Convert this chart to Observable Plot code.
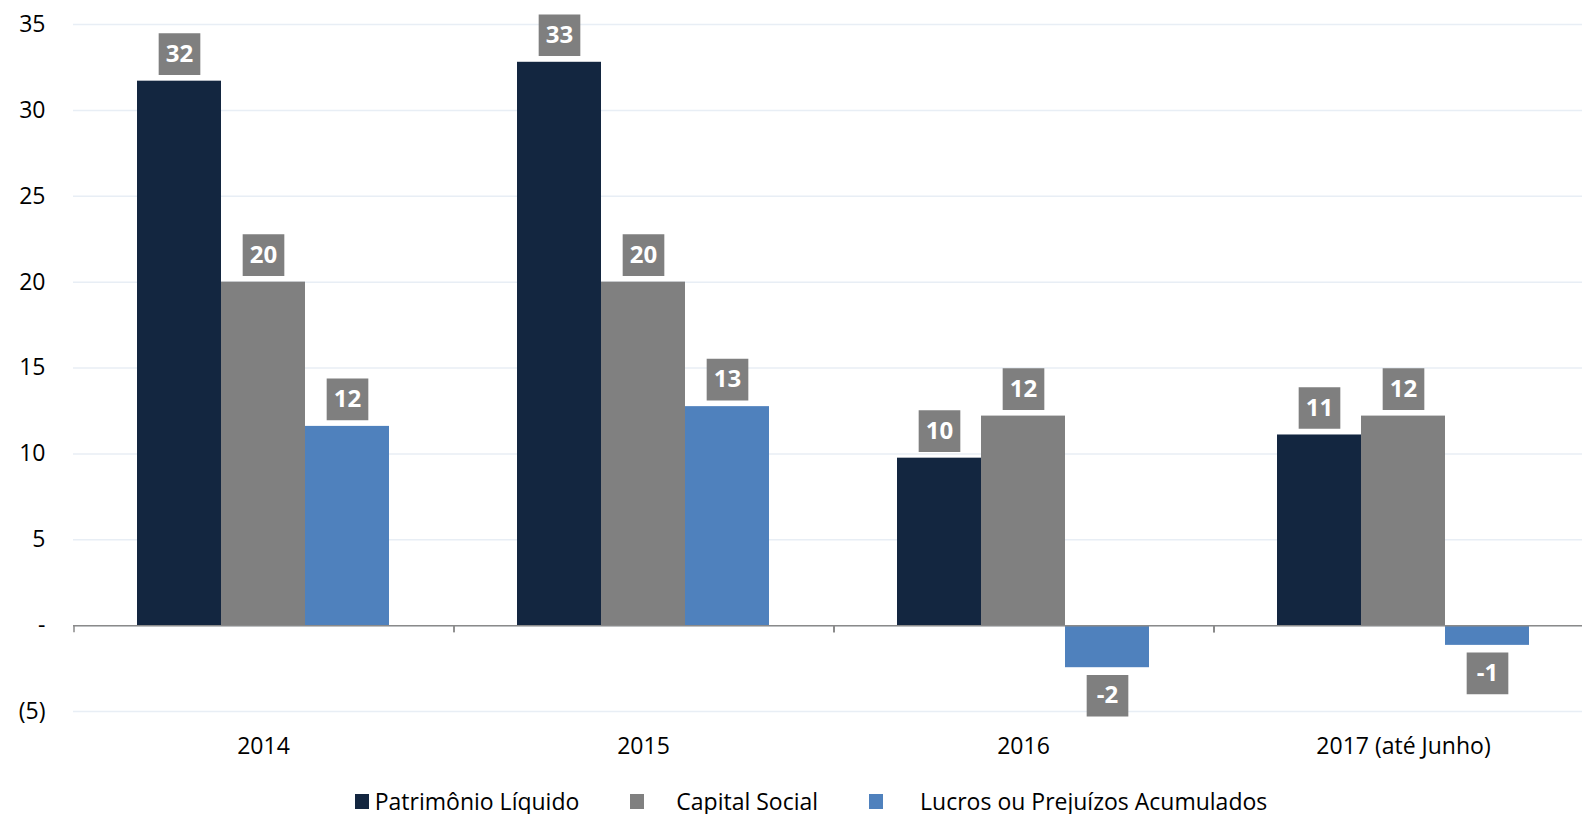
<!DOCTYPE html>
<html>
<head>
<meta charset="utf-8">
<script src="https://cdn.jsdelivr.net/npm/d3@7"></script>
<script src="https://cdn.jsdelivr.net/npm/@observablehq/plot@0.6"></script>
<style>
  html, body { margin: 0; padding: 0; background: #fff; overflow: hidden; }
  body { width: 1582px; height: 814px; font-family: "Open Sans", sans-serif; }
  #chart svg { display: block; }
  .legend { display: flex; justify-content: center; align-items: center; height: 30px; margin-top: 16px; padding-left: 40px;
    font-family: "Open Sans", sans-serif; font-size: 23px; color: #000; }
  .legend .item { display: flex; align-items: center; }
  .legend .sw { width: 14px; height: 15px; display: inline-block; }
</style>
</head>
<body>
<div id="chart"></div>
<div class="legend" id="legend"></div>
<script>
const years = ["2014", "2015", "2016", "2017 (até Junho)"];
const series = ["Patrimônio Líquido", "Capital Social", "Lucros ou Prejuízos Acumulados"];
const patrimonio = [31.7, 32.8, 9.75, 11.1];
const capital = [20.0, 20.0, 12.2, 12.2];
const lucros = [11.6, 12.75, -2.45, -1.15];
const yTicks = [-5, 0, 5, 10, 15, 20, 25, 30, 35];
const colors = ["#132640", "#808080", "#4f81bd"];

const valuesBySeries = [patrimonio, capital, lucros];
const data = [];
years.forEach((yr, i) => {
  series.forEach((s, j) => data.push({year: yr, series: s, value: valuesBySeries[j][i]}));
});
const pos = data.filter(d => d.value >= 0);
const neg = data.filter(d => d.value < 0);
const lbl = d => String(Math.round(d.value));
const fmtY = v => v === 0 ? "-" : v < 0 ? `(${-v})` : String(v);

const boundaryTicks = (index, scales, values, dimensions) => {
  const g = d3.create("svg:g");
  if (!scales.fx || !scales.y) return g.node();
  const y0 = scales.y(0);
  const bw = scales.fx.bandwidth ? scales.fx.bandwidth() : 0;
  const xs = years.map(d => scales.fx(d));
  xs.push(xs[xs.length - 1] + bw);
  for (const x of xs) {
    g.append("line").attr("x1", x).attr("x2", x).attr("y1", y0).attr("y2", y0 + 7)
      .attr("stroke", "#8a8a8a").attr("stroke-width", 1.5);
  }
  return g.node();
};

const chart = Plot.plot({
  width: 1582,
  height: 770,
  marginLeft: 72,
  marginRight: -11,
  marginTop: 24,
  marginBottom: 59,
  style: {fontFamily: "Open Sans, sans-serif", fontSize: "23px", color: "#000", background: "#fff"},
  fx: {domain: years, padding: 0, label: null},
  x: {domain: series, paddingInner: 0, paddingOuter: 0.75, axis: null},
  y: {domain: [-5, 35], axis: null},
  color: {domain: series, range: colors},
  marks: [
    Plot.gridY(yTicks, {stroke: "#e8eef5", strokeOpacity: 1, strokeWidth: 1.5}),
    Plot.axisY(yTicks, {anchor: "left", tickSize: 0, tickPadding: 28, tickFormat: fmtY, fontSize: 23, label: null}),
    Plot.barY(data, {fx: "year", x: "series", y: "value", fill: "series"}),
    Plot.ruleY([0], {stroke: "#8a8a8a", strokeWidth: 1.5}),
    Plot.axisFx({anchor: "bottom", tickSize: 0, tickPadding: 26, fontSize: 23, label: null}),
    Plot.dot(pos, {fx: "year", x: "series", y: "value", symbol: "square", r: 23.5, fill: "#7f7f7f", dy: -27}),
    Plot.text(pos, {fx: "year", x: "series", y: "value", text: lbl, dy: -27, fill: "#fff", fontWeight: "bold", fontSize: 24, lineAnchor: "middle"}),
    Plot.dot(neg, {fx: "year", x: "series", y: "value", symbol: "square", r: 23.5, fill: "#7f7f7f", dy: 28}),
    Plot.text(neg, {fx: "year", x: "series", y: "value", text: lbl, dy: 28, fill: "#fff", fontWeight: "bold", fontSize: 24, lineAnchor: "middle"}),
    boundaryTicks
  ]
});
document.getElementById("chart").appendChild(chart);

const legend = document.getElementById("legend");
const gaps = [[6, 0], [32, 51], [37, 51]];
series.forEach((s, i) => {
  const item = document.createElement("div");
  item.className = "item";
  item.style.marginLeft = gaps[i][1] + "px";
  const sw = document.createElement("span");
  sw.className = "sw";
  sw.style.background = colors[i];
  sw.style.marginRight = gaps[i][0] + "px";
  const t = document.createElement("span");
  t.textContent = s;
  item.appendChild(sw);
  item.appendChild(t);
  legend.appendChild(item);
});
</script>
</body>
</html>
